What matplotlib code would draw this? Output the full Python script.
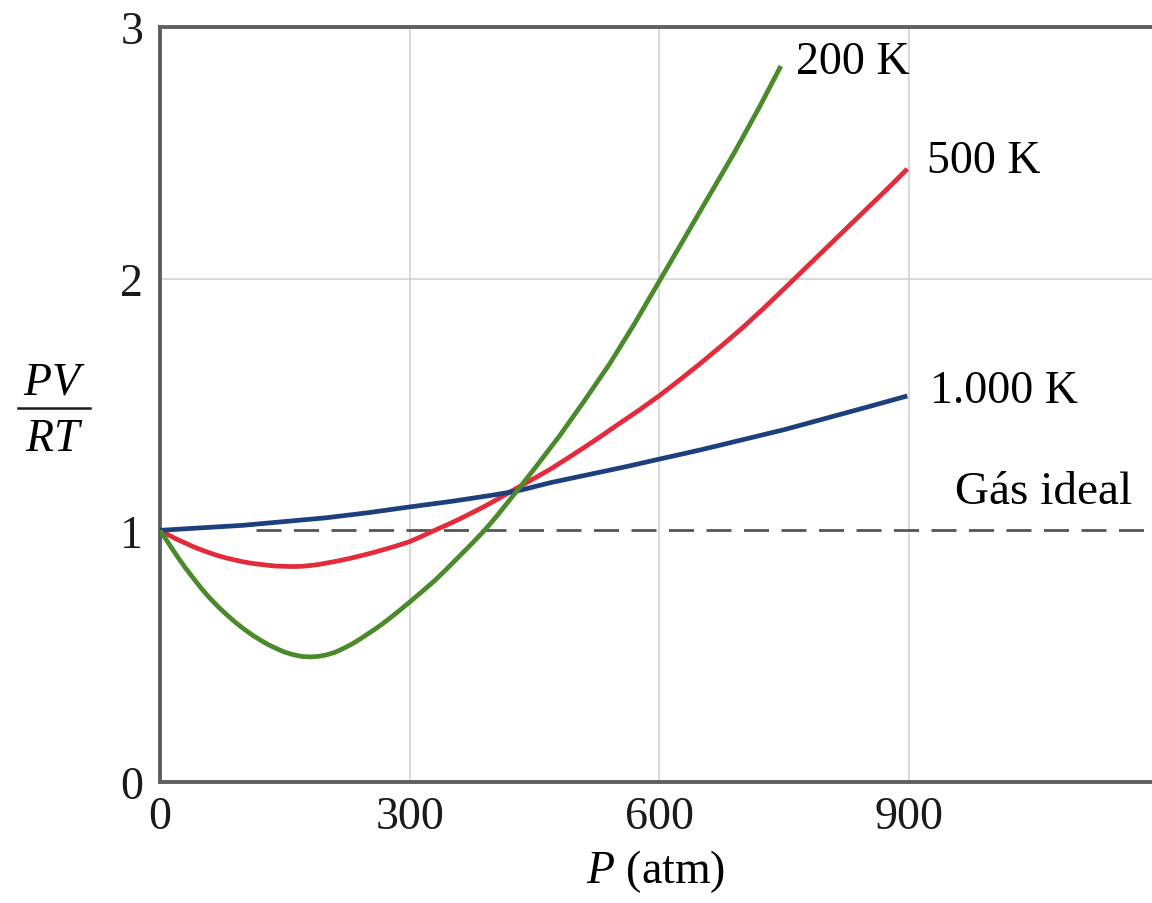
import matplotlib
matplotlib.use("Agg")
import matplotlib.pyplot as plt
from matplotlib.lines import Line2D

plt.rcParams["font.family"] = ["Liberation Serif", "DejaVu Serif"]
plt.rcParams["mathtext.fontset"] = "custom"
plt.rcParams["mathtext.rm"] = "Liberation Serif"
plt.rcParams["mathtext.it"] = "Liberation Serif:italic"

# Compressibility factor PV/RT vs pressure (atm)
p_200 = [0, 10, 20, 30, 40, 50, 60, 70, 80, 90, 100, 110, 120, 130, 140, 150,
         160, 170, 180, 190, 200, 210, 220, 230, 240, 250, 260, 270, 285, 300,
         315, 330, 345, 360, 375, 390, 405, 420, 435, 450, 480, 510, 540, 570,
         600, 630, 660, 690, 720, 746]
z_200 = [1.0, 0.95, 0.90, 0.853, 0.81, 0.768, 0.73, 0.696, 0.665, 0.636, 0.61,
         0.586, 0.565, 0.546, 0.53, 0.516, 0.506, 0.499, 0.497, 0.499, 0.505,
         0.515, 0.53, 0.547, 0.567, 0.589, 0.611, 0.635, 0.674, 0.715, 0.757,
         0.80, 0.848, 0.898, 0.948, 1.0, 1.058, 1.12, 1.182, 1.245, 1.375,
         1.515, 1.66, 1.82, 1.99, 2.16, 2.33, 2.50, 2.68, 2.845]

p_500 = [0, 10, 20, 30, 40, 50, 60, 70, 80, 90, 100, 110, 120, 130, 140, 150,
         160, 170, 180, 190, 200, 215, 230, 245, 260, 280, 300, 315, 330, 345,
         360, 375, 390, 410, 430, 450, 470, 490, 510, 530, 550, 575, 600, 625,
         650, 675, 700, 725, 750, 775, 800, 825, 850, 875, 898]
z_500 = [1.0, 0.982, 0.965, 0.95, 0.935, 0.922, 0.91, 0.899, 0.89, 0.882,
         0.875, 0.869, 0.865, 0.861, 0.858, 0.857, 0.856, 0.857, 0.86, 0.864,
         0.87, 0.879, 0.89, 0.902, 0.915, 0.934, 0.955, 0.977, 1.0, 1.022,
         1.045, 1.07, 1.095, 1.132, 1.17, 1.207, 1.245, 1.287, 1.33, 1.374,
         1.42, 1.476, 1.535, 1.599, 1.665, 1.734, 1.805, 1.881, 1.96, 2.04,
         2.12, 2.2, 2.28, 2.36, 2.436]

p_1000 = [0, 50, 100, 150, 200, 250, 300, 350, 400, 430, 470, 520, 560, 600,
          650, 700, 750, 800, 850, 898]
z_1000 = [1.0, 1.01, 1.02, 1.035, 1.05, 1.07, 1.093, 1.115, 1.14, 1.157, 1.19,
          1.225, 1.253, 1.283, 1.32, 1.36, 1.40, 1.445, 1.49, 1.534]

ideal_z = 1.0
ideal_start = 115

x_ticks = [0, 300, 600, 900]
y_ticks = [0, 1, 2, 3]

fig = plt.figure(figsize=(11.52, 9.04), dpi=100)
ax = fig.add_axes([160 / 1152, 1 - 783 / 904, (1152 - 160) / 1152, (783 - 28) / 904])
ax.set_xlim(0, 1192)
ax.set_ylim(0, 3)

# grid lines
for xv in x_ticks[1:]:
    ax.axvline(xv, color="#cfcfcf", lw=1.1, zorder=0)
ax.axhline(2, color="#cfcfcf", lw=1.1, zorder=0)

ax.plot([ideal_start, 1192], [ideal_z, ideal_z], color="#555555", lw=2.0,
        dashes=(9, 4.5), zorder=1)
kw = dict(lw=3.4, solid_capstyle="butt", solid_joinstyle="round")
ax.plot(p_500, z_500, color="#e32b3b", zorder=2, **kw)
ax.plot(p_1000, z_1000, color="#1d3f7e", zorder=3, **kw)
ax.plot(p_200, z_200, color="#4a8a2a", zorder=4, **kw)

fs = 33
ax.text(764, 2.86, "200 K", fontsize=fs, ha="left", va="center")
ax.text(922, 2.467, "500 K", fontsize=fs, ha="left", va="center")
ax.text(925, 1.554, "1.000 K", fontsize=fs, ha="left", va="center")
ax.text(955, 1.154, "Gás ideal", fontsize=fs + 1, ha="left", va="center")

ax.set_xticks(x_ticks)
ax.set_yticks(y_ticks)
ax.tick_params(axis="both", length=0, labelsize=fs, colors="#1a1a1a")
ax.tick_params(axis="x", pad=10)
ax.tick_params(axis="y", pad=12)

for side in ["left", "bottom", "top"]:
    ax.spines[side].set_color("#5f5f5f")
    ax.spines[side].set_linewidth(2.8)
ax.spines["right"].set_visible(False)

ax.set_xlabel(r"$P$ (atm)", fontsize=fs, labelpad=6)

# y label as a stacked fraction PV / RT
fig.text(54 / 1152, 1 - 383 / 904, r"$PV$", fontsize=fs, ha="center", va="center")
fig.text(54 / 1152, 1 - 440 / 904, r"$RT$", fontsize=fs, ha="center", va="center")
fig.add_artist(Line2D([18 / 1152, 90 / 1152], [1 - 409 / 904, 1 - 409 / 904],
                      color="#1a1a1a", lw=1.8))

fig.savefig("out.png", dpi=100)
